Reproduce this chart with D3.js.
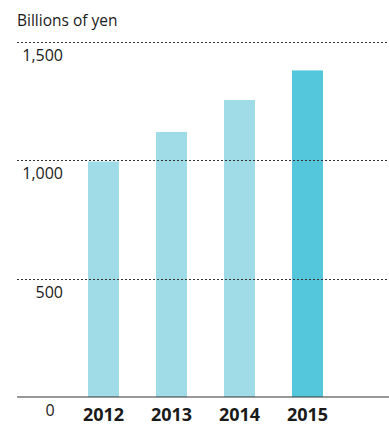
<!DOCTYPE html>
<html>
<head>
<meta charset="utf-8">
<script src="https://cdn.jsdelivr.net/npm/d3@7"></script>
<style>
  body { margin: 0; background: #fff; }
  text { font-family: "Open Sans", "Noto Sans", sans-serif; fill: #1a1a1a; }
</style>
</head>
<body>
<div id="chart"></div>
<script>
// chart data
var years = ["2012", "2013", "2014", "2015"];
var values = [995, 1120, 1255, 1380];
var tickValues = [500, 1000, 1500];
var unitLabel = "Billions of yen";

var width = 389, height = 427;

var svg = d3.select("#chart")
  .append("svg")
  .attr("width", width)
  .attr("height", height);

var x = d3.scaleBand()
  .domain(years)
  .range([69.5, 341.5])
  .paddingInner(0.544)
  .paddingOuter(0.272);

var y = d3.scaleLinear()
  .domain([0, 1500])
  .range([397, 42]);

// unit label
svg.append("text")
  .attr("x", 17)
  .attr("y", 26)
  .style("font-size", "15.5px")
  .text(unitLabel);

// bars
svg.selectAll("rect.bar")
  .data(values)
  .enter().append("rect")
  .attr("class", "bar")
  .attr("x", function(d, i) { return x(years[i]); })
  .attr("y", function(d) { return y(d); })
  .attr("width", x.bandwidth())
  .attr("height", function(d) { return y(0) - y(d); })
  .attr("fill", function(d, i) { return i == years.length - 1 ? "#54c7dc" : "#a0dbe8"; });

// dotted gridlines
svg.selectAll("line.grid")
  .data(tickValues)
  .enter().append("line")
  .attr("class", "grid")
  .attr("x1", 17)
  .attr("x2", width)
  .attr("y1", function(d) { return Math.round(y(d)) + 0.5; })
  .attr("y2", function(d) { return Math.round(y(d)) + 0.5; })
  .attr("stroke", "#333")
  .attr("stroke-width", 1)
  .attr("stroke-dasharray", "2,2");

// tick labels
svg.selectAll("text.tick")
  .data(tickValues)
  .enter().append("text")
  .attr("class", "tick")
  .attr("x", 63)
  .attr("y", function(d) { return y(d) + 19; })
  .attr("text-anchor", "end")
  .style("font-size", "16px")
  .text(function(d) { return d3.format(",")(d); });

// zero baseline
svg.append("line")
  .attr("x1", 17)
  .attr("x2", width)
  .attr("y1", y(0))
  .attr("y2", y(0))
  .attr("stroke", "#333")
  .attr("stroke-width", 1.2);

svg.append("text")
  .attr("x", 50)
  .attr("y", 416)
  .attr("text-anchor", "middle")
  .style("font-size", "16px")
  .text("0");

// year labels
svg.selectAll("text.year")
  .data(years)
  .enter().append("text")
  .attr("class", "year")
  .attr("x", function(d) { return x(d) + x.bandwidth() / 2; })
  .attr("y", 421)
  .attr("text-anchor", "middle")
  .style("font-size", "18px")
  .style("font-weight", "bold")
  .text(function(d) { return d; });
</script>
</body>
</html>
